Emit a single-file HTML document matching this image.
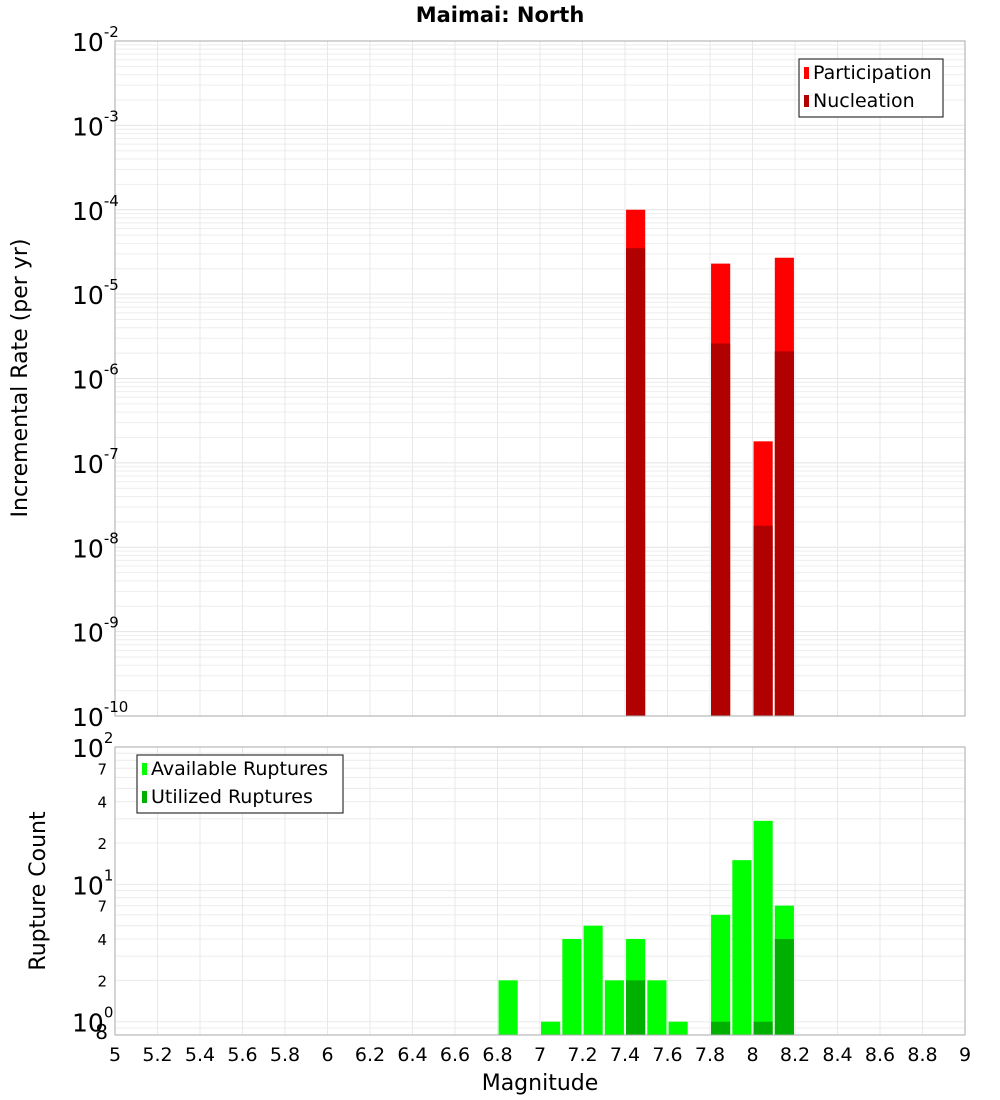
<!DOCTYPE html>
<html><head><meta charset="utf-8"><style>
body{margin:0;background:#fff;}
svg{display:block;font-family:"DejaVu Sans","Liberation Sans",sans-serif;}
</style></head><body>
<svg id="chart" width="1000" height="1100" viewBox="0 0 1000 1100" xmlns="http://www.w3.org/2000/svg">
<text x="500" y="22" text-anchor="middle" font-size="21" font-weight="bold">Maimai: North</text>
<g id="topPlot"></g><g id="botPlot"></g>
<text transform="translate(27,378) rotate(-90)" text-anchor="middle" font-size="22">Incremental Rate (per yr)</text>
<text transform="translate(45,891) rotate(-90)" text-anchor="middle" font-size="22">Rupture Count</text>
<text x="540" y="1090" text-anchor="middle" font-size="22">Magnitude</text>
</svg>
<script>
const magnitudes=[7.45,7.85,8.05,8.15];
const participation=[1.0e-4,2.3e-5,1.8e-7,2.7e-5];
const nucleation=[3.5e-5,2.6e-6,1.8e-8,2.1e-6];
const countMags=[6.85,7.05,7.15,7.25,7.35,7.45,7.55,7.65,7.85,7.95,8.05,8.15];
const available=[2,1,4,5,2,4,2,1,6,15,29,7];
const utilized=[0,0,0,0,0,2,0,0,1,0,1,4];
const xTicks=["5","5.2","5.4","5.6","5.8","6","6.2","6.4","6.6","6.8","7","7.2","7.4","7.6","7.8","8","8.2","8.4","8.6","8.8","9"];

const NS="http://www.w3.org/2000/svg";
const L=115,R=965;
const x=m=>L+(m-5)*(R-L)/4;
const T1=41,B1=716;
const y1=v=>T1+(-2-Math.log10(v))*(B1-T1)/8;
const T2=747,B2=1035,lmin=Math.log10(0.8);
const y2=v=>T2+(2-Math.log10(v))*(B2-T2)/(2-lmin);
function mk(tag,attrs,parent,txt){const e=document.createElementNS(NS,tag);for(const k in attrs)e.setAttribute(k,attrs[k]);if(txt!==undefined)e.textContent=txt;parent.appendChild(e);return e;}
const topG=document.getElementById('topPlot'),botG=document.getElementById('botPlot');
const bw=(x(0.09)-x(0));

for(let d=-10;d<-2;d++)for(let k=1;k<10;k++){const yy=y1(k*Math.pow(10,d));const l=mk('line',{x1:L,x2:R,y1:yy,y2:yy,stroke:k==1?'#e4e4e4':'#eeeeee','stroke-width':1},topG);

}
[0.8,0.9,1,2,3,4,5,6,7,8,9,10,20,30,40,50,60,70,80,90].forEach(v=>{const yy=y2(v);const l=mk('line',{x1:L,x2:R,y1:yy,y2:yy,stroke:'#ececec','stroke-width':1},botG);

});
xTicks.forEach(t=>{const xx=x(parseFloat(t));[[T1,B1,topG],[T2,B2,botG]].forEach(([a,b,g])=>{const l=mk('line',{x1:xx,x2:xx,y1:a,y2:b,stroke:'#e8e8e8','stroke-width':1},g);

});
const tx=mk('text',{x:xx,y:1061,'text-anchor':'middle','font-size':19},botG,t);

});

magnitudes.forEach((m,i)=>{const xx=x(m)-bw/2;
const p=mk('rect',{x:xx,y:y1(participation[i]),width:bw,height:B1-y1(participation[i]),fill:'#ff0000'},topG);


const n=mk('rect',{x:xx,y:y1(nucleation[i]),width:bw,height:B1-y1(nucleation[i]),fill:'#b00000'},topG);

});
countMags.forEach((m,i)=>{const xx=x(m)-bw/2;
const a=mk('rect',{x:xx,y:y2(available[i]),width:bw,height:B2-y2(available[i]),fill:'#00ff00'},botG);


if(utilized[i]>0){const u=mk('rect',{x:xx,y:y2(utilized[i]),width:bw,height:B2-y2(utilized[i]),fill:'#00b000'},botG);

}});

const f1=mk('rect',{x:L,y:T1,width:R-L,height:B1-T1,fill:'none',stroke:'#aaaaaa'},topG);


const f2=mk('rect',{x:L,y:T2,width:R-L,height:B2-T2,fill:'none',stroke:'#aaaaaa'},botG);



for(let d=-10;d<=-2;d++){const yy=y1(Math.pow(10,d));const t=mk('text',{x:72,y:yy+10,'font-size':25},topG);


mk('tspan',{},t,'10');mk('tspan',{dy:-14,'font-size':15},t,String(d));}
[0,1,2].forEach(d=>{const yy=y2(Math.pow(10,d));const t=mk('text',{x:72,y:yy+10,'font-size':25},botG);


mk('tspan',{},t,'10');mk('tspan',{dy:-14,'font-size':15},t,String(d));});
[2,4,7,20,40,70,0.8].forEach(v=>{const yy=y2(v);const s=v<1?'8':String(v<10?v:v/10);
const t=mk('text',{x:v<1?108:107,y:yy+(v<1?4:6),'text-anchor':'end','font-size':v<1?20:15},botG,s);

});

function legend(g,x0,y0,w,h,items,name){const gg=mk('g',{},g);


mk('rect',{x:x0,y:y0,width:w,height:h,fill:'#fff',stroke:'#333','stroke-width':1.2},gg);
items.forEach(([c,lab],i)=>{const yy=y0+17+i*28;mk('rect',{x:x0+5,y:yy-9,width:5,height:12,fill:c},gg);
const t=mk('text',{x:x0+14,y:yy+3,'font-size':19},gg,lab);

});}
legend(topG,799,59,144,58,[['#ff0000','Participation'],['#b00000','Nucleation']],'top-legend');
legend(botG,137,755,206,58,[['#00ff00','Available Ruptures'],['#00b000','Utilized Ruptures']],'bottom-legend');
</script>
</body></html>
